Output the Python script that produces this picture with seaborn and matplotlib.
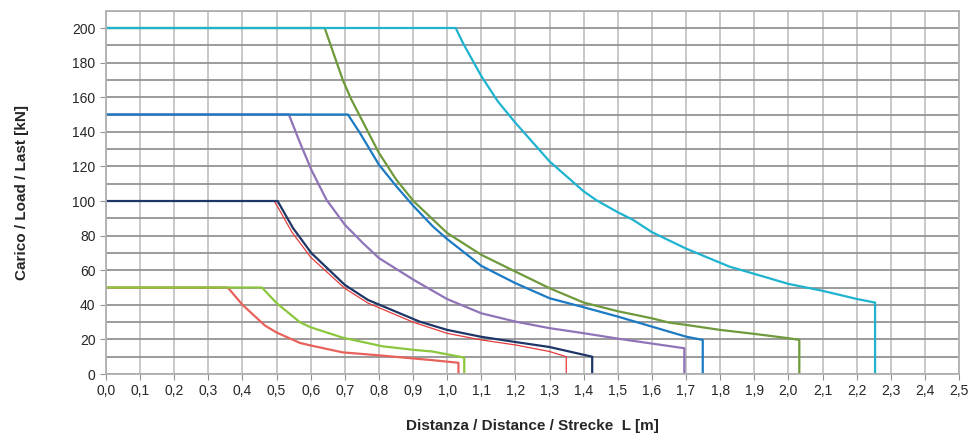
import matplotlib
matplotlib.use("Agg")
import matplotlib.pyplot as plt
import seaborn as sns
from matplotlib.ticker import MultipleLocator, FuncFormatter

# ---- data ----
red50_x = [0.0, 0.357, 0.40, 0.466, 0.50, 0.568, 0.60, 0.694, 0.80, 0.90, 0.957, 1.033, 1.033]
red50_y = [50, 50, 40, 28, 24, 18, 16.5, 12.5, 10.8, 9, 8, 6.5, 0]

green50_x = [0.0, 0.457, 0.50, 0.568, 0.60, 0.694, 0.811, 0.90, 0.957, 1.05, 1.05]
green50_y = [50, 50, 41, 30, 27, 21, 16, 14, 13, 9.5, 0]

red100_x = [0.0, 0.493, 0.505, 0.545, 0.60, 0.70, 0.768, 0.90, 1.0, 1.10, 1.20, 1.30, 1.349, 1.349]
red100_y = [100, 100, 96, 82, 67.5, 49.5, 41, 30, 23.5, 19.7, 16.8, 13, 10, 0]

navy100_x = [0.0, 0.503, 0.509, 0.548, 0.602, 0.70, 0.768, 0.919, 1.0, 1.10, 1.20, 1.30, 1.425, 1.425]
navy100_y = [100, 100, 97.9, 84.4, 69.9, 51.5, 42.8, 30.3, 25.5, 21.5, 18.5, 15.6, 10, 0]

purple150_x = [0.0, 0.536, 0.568, 0.602, 0.646, 0.70, 0.753, 0.80, 0.902, 1.0, 1.10, 1.20, 1.30, 1.40, 1.505, 1.695, 1.695]
purple150_y = [150, 150, 134, 118, 100.8, 86.3, 75.7, 67, 54.4, 43.3, 35.1, 30.3, 26.5, 23.6, 20.3, 14.9, 0]

blue150_x = [0.0, 0.709, 0.744, 0.80, 0.851, 0.902, 0.958, 1.0, 1.10, 1.20, 1.30, 1.40, 1.50, 1.60, 1.70, 1.749, 1.749]
blue150_y = [150, 150, 139.4, 121, 108.5, 96.9, 85.3, 78, 62.5, 52.5, 43.8, 38.6, 33.2, 27.4, 21.6, 19.7, 0]

olive200_x = [0.0, 0.641, 0.694, 0.719, 0.80, 0.851, 0.902, 1.0, 1.10, 1.20, 1.30, 1.40, 1.50, 1.60, 1.651, 1.70, 1.80, 1.90, 2.0, 2.032, 2.032]
olive200_y = [200, 200, 170, 158.7, 127.8, 112.3, 99.8, 81.5, 68.9, 59.2, 49.6, 41.3, 36.3, 32.2, 29.7, 28.4, 25.5, 23.2, 20.7, 19.7, 0]

cyan200_x = [0.0, 1.025, 1.046, 1.10, 1.148, 1.20, 1.30, 1.40, 1.437, 1.50, 1.544, 1.60, 1.70, 1.827, 1.90, 2.0, 2.10, 2.20, 2.254, 2.254]
cyan200_y = [200, 200, 191.4, 172.2, 157.7, 145.2, 122.9, 105.6, 100.5, 93.5, 89.2, 82, 72.5, 62.1, 57.9, 52.1, 48.1, 43.4, 41.3, 0]

series = [
    (red50_x, red50_y, "#e8625c", 1.6),
    (green50_x, green50_y, "#8cc63e", 1.6),
    (red100_x, red100_y, "#e53b3b", 0.9),
    (navy100_x, navy100_y, "#1d3667", 1.6),
    (purple150_x, purple150_y, "#8f74b8", 1.6),
    (blue150_x, blue150_y, "#1b7ac2", 1.6),
    (olive200_x, olive200_y, "#6f9a3c", 1.6),
    (cyan200_x, cyan200_y, "#1fb3d0", 1.6),
]

xlabel = "Distanza / Distance / Strecke  L [m]"
ylabel = "Carico / Load / Last [kN]"

sns.set_style("white")
plt.rcParams['font.family'] = ['Liberation Sans', 'DejaVu Sans']

fig = plt.figure(figsize=(9.74, 4.41), dpi=100)
ax = fig.add_axes([0.1088, 0.1519, 0.8758, 0.8238])

for xs, ys, c, lw in series:
    sns.lineplot(x=xs, y=ys, ax=ax, color=c, linewidth=lw, sort=False, estimator=None)

ax.set_xlim(0, 2.5)
ax.set_ylim(0, 210)
ax.xaxis.set_major_locator(MultipleLocator(0.1))
ax.yaxis.set_major_locator(MultipleLocator(20))
ax.yaxis.set_minor_locator(MultipleLocator(10))
ax.xaxis.set_major_formatter(FuncFormatter(lambda v, p: f"{v:.1f}".replace(".", ",")))

ax.grid(True, axis='x', which='major', color='#c4c4c4', linewidth=1.3)
ax.grid(True, axis='y', which='both', color='#939393', linewidth=1.3)
ax.set_axisbelow(True)
for s in ax.spines.values():
    s.set_color('#b0b0b0')
    s.set_linewidth(1.3)

ax.tick_params(axis='both', which='major', labelsize=10, length=4, color='#939393', direction='out', left=True, bottom=True)
ax.tick_params(axis='y', which='minor', length=0)
ax.set_xlabel(xlabel, fontsize=11, fontweight='bold', labelpad=15)
ax.set_ylabel(ylabel, fontsize=11, fontweight='bold', labelpad=31)

fig.savefig("out.png", dpi=100)
